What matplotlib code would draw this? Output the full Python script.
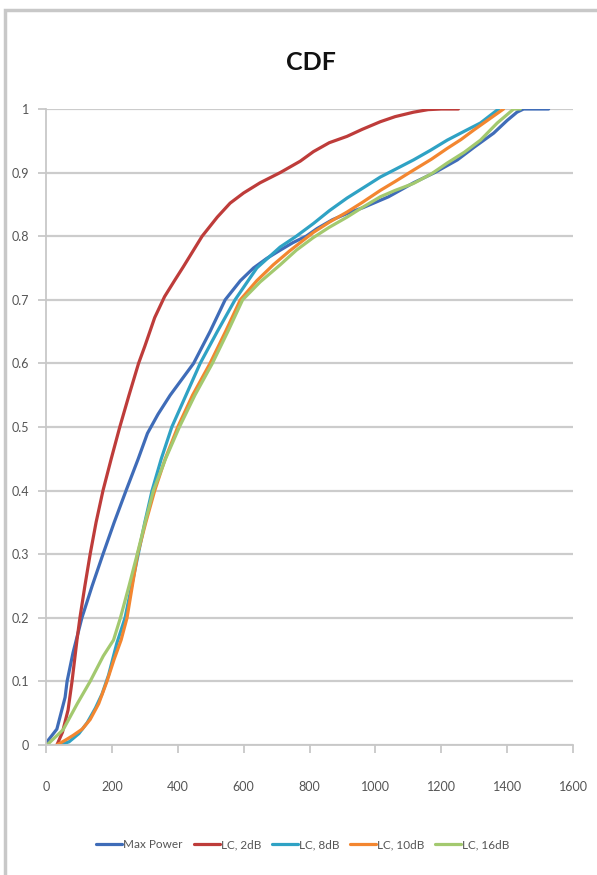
import matplotlib
matplotlib.use('Agg')
import matplotlib.pyplot as plt
from matplotlib.patches import Rectangle

plt.rcParams['font.family'] = ['Lato', 'DejaVu Sans']

# CDF curves
max_power_x = [0, 3, 33, 58, 64, 82, 109, 140, 173, 207, 243, 280, 308, 340, 377,
               448, 498, 544, 590, 630, 670, 711, 750, 790, 823, 870, 920, 963, 1040,
               1116, 1180, 1249, 1300, 1359, 1400, 1430, 1450, 1526]
max_power_y = [0, 0.005, 0.025, 0.075, 0.10, 0.145, 0.20, 0.25, 0.30, 0.35, 0.40,
               0.45, 0.49, 0.52, 0.55, 0.60, 0.65, 0.70, 0.73, 0.75, 0.765, 0.778,
               0.79, 0.80, 0.812, 0.826, 0.837, 0.845, 0.862, 0.884, 0.90, 0.92, 0.94,
               0.962, 0.982, 0.995, 1.0, 1.0]

lc2_x = [33, 50, 67, 79, 94, 103, 118, 134, 152, 173, 198, 224, 252, 281, 300, 330,
         360, 390, 417, 474, 520, 559, 600, 650, 711, 772, 812, 860, 914, 960, 1015,
         1060, 1116, 1160, 1200, 1252]
lc2_y = [0, 0.02, 0.055, 0.10, 0.165, 0.20, 0.25, 0.30, 0.35, 0.40, 0.45, 0.50, 0.55,
         0.60, 0.627, 0.672, 0.705, 0.73, 0.752, 0.80, 0.83, 0.852, 0.868, 0.884,
         0.90, 0.918, 0.933, 0.947, 0.957, 0.968, 0.98, 0.988, 0.995, 0.999, 1.0, 1.0]

lc8_x = [40, 70, 100, 125, 150, 170, 190, 215, 240, 260, 280, 300, 322, 350, 382,
         425, 468, 520, 574, 640, 711, 760, 812, 860, 914, 960, 1015, 1060, 1116,
         1167, 1218, 1270, 1319, 1374]
lc8_y = [0, 0.005, 0.018, 0.035, 0.058, 0.08, 0.11, 0.16, 0.20, 0.25, 0.30, 0.35,
         0.40, 0.45, 0.50, 0.55, 0.60, 0.65, 0.70, 0.75, 0.783, 0.80, 0.82, 0.84,
         0.86, 0.875, 0.893, 0.905, 0.92, 0.935, 0.951, 0.965, 0.978, 1.0]

lc10_x = [33, 60, 82, 110, 134, 160, 185, 207, 228, 246, 262, 278, 303, 330, 362,
          400, 445, 498, 545, 590, 640, 690, 740, 812, 860, 914, 960, 1015, 1060,
          1116, 1170, 1218, 1260, 1299, 1389]
lc10_y = [0, 0.008, 0.015, 0.025, 0.04, 0.065, 0.10, 0.135, 0.165, 0.20, 0.25, 0.30,
          0.35, 0.40, 0.45, 0.50, 0.55, 0.60, 0.65, 0.70, 0.73, 0.755, 0.777, 0.806,
          0.822, 0.838, 0.853, 0.872, 0.886, 0.904, 0.921, 0.938, 0.952, 0.967, 1.0]

lc16_x = [0, 3, 52, 95, 134, 174, 205, 226, 252, 277, 301, 326, 363, 405, 452, 505,
          552, 597, 650, 711, 760, 812, 860, 914, 960, 1015, 1060, 1116, 1170, 1218,
          1270, 1319, 1370, 1420, 1440]
lc16_y = [0, 0.0, 0.024, 0.065, 0.10, 0.14, 0.165, 0.20, 0.25, 0.30, 0.35, 0.40,
          0.45, 0.50, 0.55, 0.60, 0.65, 0.70, 0.728, 0.755, 0.778, 0.798, 0.814,
          0.83, 0.845, 0.862, 0.872, 0.883, 0.898, 0.915, 0.932, 0.951, 0.978, 1.0,
          1.0]

series = [
    ('Max Power', max_power_x, max_power_y, '#3f6cb8'),
    ('LC, 2dB', lc2_x, lc2_y, '#be3c3a'),
    ('LC, 8dB', lc8_x, lc8_y, '#2fa2c4'),
    ('LC, 10dB', lc10_x, lc10_y, '#f38630'),
    ('LC, 16dB', lc16_x, lc16_y, '#a3c96f'),
]

x_ticks = [0, 200, 400, 600, 800, 1000, 1200, 1400, 1600]
y_ticks = [0, 0.1, 0.2, 0.3, 0.4, 0.5, 0.6, 0.7, 0.8, 0.9, 1]
y_labels = ['0', '0.1', '0.2', '0.3', '0.4', '0.5', '0.6', '0.7', '0.8', '0.9', '1']

W, H = 597, 875
fig = plt.figure(figsize=(W / 100, H / 100), dpi=100)
ax = fig.add_axes([46 / W, (H - 745) / H, (573 - 46) / W, (745 - 109) / H])

# grey frame of the original screenshot
fig.patches.append(Rectangle((5 / W, -0.1), 1.2, 1 - 10 / H + 0.1,
                             transform=fig.transFigure, fill=False,
                             edgecolor='#c8c8c8', linewidth=2.5))

for name, xs, ys, color in series:
    ax.plot(xs, ys, color=color, linewidth=2.3, label=name,
            solid_joinstyle='round', solid_capstyle='round')

ax.set_xlim(0, 1600)
ax.set_ylim(0, 1)
ax.set_xticks(x_ticks)
ax.set_yticks(y_ticks)
ax.set_yticklabels(y_labels)
ax.yaxis.grid(True, color='#cccccc', linewidth=1.6)
ax.set_axisbelow(True)
for side in ['top', 'right']:
    ax.spines[side].set_visible(False)
for side in ['left', 'bottom']:
    ax.spines[side].set_color('#c8c8c8')
    ax.spines[side].set_linewidth(1.3)
ax.tick_params(axis='both', colors='#c8c8c8', labelcolor='#555555',
               labelsize=9, direction='out', length=6, width=1.3)
ax.tick_params(axis='x', pad=20)
ax.tick_params(axis='y', pad=6)

fig.text(311 / W, 1 - 62 / H, 'CDF', ha='center', va='center',
         fontsize=18, fontweight='bold', color='#111111')

fig.legend(loc='center', bbox_to_anchor=(303 / W, 1 - 845 / H), ncol=5,
           frameon=False, fontsize=8.5, handlelength=2.2, handletextpad=0.1,
           columnspacing=0.9, labelcolor='#555555')

plt.savefig('out.png', dpi=100)
